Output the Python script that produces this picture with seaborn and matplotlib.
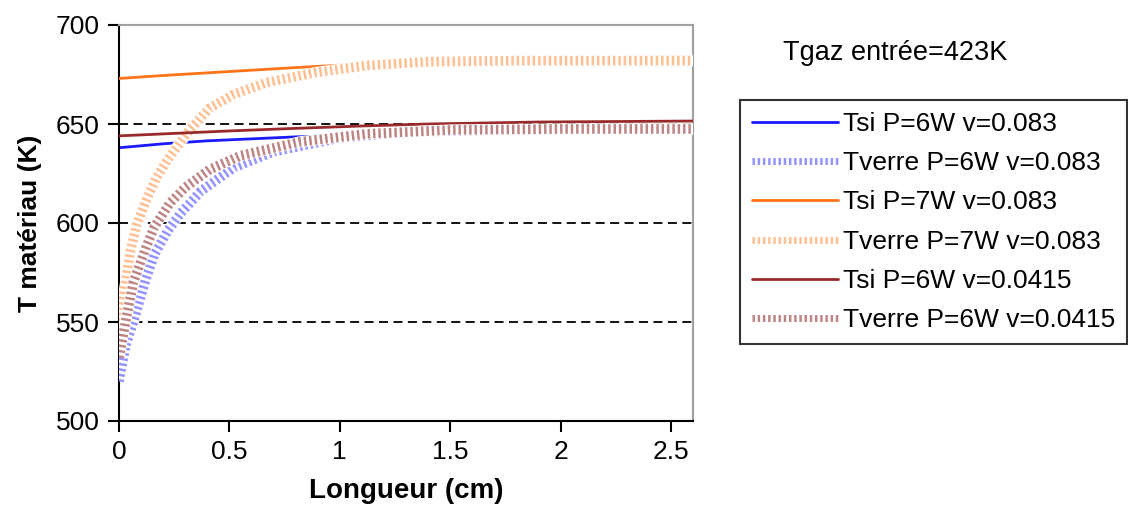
import matplotlib
matplotlib.use('Agg')
import matplotlib.pyplot as plt
import seaborn as sns
import pandas as pd
import numpy as np

# ===== Données =====
# Tsi (lignes pleines)
l_tsi_6w_083 = [0, 0.1, 0.2, 0.4, 0.6, 0.8, 0.97]
t_tsi_6w_083 = [638, 639, 640, 641.5, 642.5, 643.5, 644]

l_tsi_7w_083 = [0, 0.2, 0.5, 0.8, 1.1, 1.5, 2.0, 2.35, 2.6]
t_tsi_7w_083 = [673, 674.5, 676.5, 678.5, 680.3, 682, 683.3, 683.7, 684]

l_tsi_6w_0415 = [0, 0.2, 0.5, 0.8, 1.1, 1.4, 1.9, 2.6]
t_tsi_6w_0415 = [644, 645, 646.5, 647.8, 649, 650, 651, 651.5]

# Tverre (bandes pointillées)
l_tv_6w_083 = [0, 0.03, 0.065, 0.12, 0.16, 0.22, 0.28, 0.37, 0.52, 0.7, 1.0, 1.3, 1.7, 2.2, 2.6]
t_tv_6w_083 = [520, 538, 550, 571, 584, 596, 605, 616, 628, 636, 643, 646, 647, 647.5, 647.5]

l_tv_7w_083 = [0, 0.027, 0.05, 0.08, 0.125, 0.17, 0.22, 0.32, 0.41, 0.52, 0.67, 0.89, 1.12, 1.4, 1.8, 2.6]
t_tv_7w_083 = [548, 568, 585, 599, 612, 623, 632, 647, 658, 665, 671, 676, 679.5, 681.5, 682, 682]

l_tv_6w_0415 = [0, 0.03, 0.065, 0.12, 0.16, 0.23, 0.3, 0.41, 0.55, 0.82, 1.12, 1.5, 2.0, 2.6]
t_tv_6w_0415 = [532, 550, 570, 587, 598, 610, 618, 627, 634, 641, 645, 647, 647.5, 647.5]

x_ticks = [0, 0.5, 1, 1.5, 2, 2.5]
x_labels = ['0', '0.5', '1', '1.5', '2', '2.5']
y_ticks = [500, 550, 600, 650, 700]

series = [
    ('Tsi P=6W v=0.083', l_tsi_6w_083, t_tsi_6w_083, '#1a1aff', 'solid'),
    ('Tverre P=6W v=0.083', l_tv_6w_083, t_tv_6w_083, '#3a3aff', 'band'),
    ('Tsi P=7W v=0.083', l_tsi_7w_083, t_tsi_7w_083, '#ff7418', 'solid'),
    ('Tverre P=7W v=0.083', l_tv_7w_083, t_tv_7w_083, '#ff8c3a', 'band'),
    ('Tsi P=6W v=0.0415', l_tsi_6w_0415, t_tsi_6w_0415, '#9a2a2a', 'solid'),
    ('Tverre P=6W v=0.0415', l_tv_6w_0415, t_tv_6w_0415, '#8a2020', 'band'),
]

sns.set_style('white')
plt.rcParams['font.family'] = ['Liberation Sans', 'DejaVu Sans']
plt.rcParams['text.color'] = 'black'
plt.rcParams['axes.labelcolor'] = 'black'
plt.rcParams['xtick.color'] = 'black'
plt.rcParams['ytick.color'] = 'black'

fig = plt.figure(figsize=(11.28, 5.26), dpi=100)
ax = fig.add_axes([119 / 1128, 1 - 421 / 526, (693 - 119) / 1128, (421 - 25) / 526])

# Quadrillage horizontal en tirets
for y in [550, 600, 650]:
    ax.axhline(y, color='black', linestyle=(0, (5, 3)), linewidth=1.3, zorder=1)

handles = []
for i, (label, lx, ty, color, kind) in enumerate(series):
    df = pd.DataFrame({'L': lx, 'T': ty})
    z = 2 + i
    if kind == 'solid':
        sns.lineplot(data=df, x='L', y='T', ax=ax, color=color, linewidth=2,
                     zorder=z, estimator=None, sort=False)
        h = matplotlib.lines.Line2D([], [], color=color, linewidth=2)
    else:
        ax.plot(df['L'], df['T'], color='white', linewidth=8, zorder=z,
                solid_capstyle='butt')
        ax.plot(df['L'], df['T'], color=color, linewidth=7, alpha=0.55, zorder=z,
                linestyle=(0, (0.25, 0.3)), dash_capstyle='butt')
        h = matplotlib.lines.Line2D([], [], color=color, linewidth=5, alpha=0.55,
                                    linestyle=(0, (0.35, 0.4)), dash_capstyle='butt')
    handles.append((h, label))

ax.set_xlim(0, 2.6)
ax.set_ylim(500, 700)
ax.set_xticks(x_ticks)
ax.set_xticklabels(x_labels)
ax.set_yticks(y_ticks)
ax.tick_params(axis='both', labelsize=19, length=8, width=1.5, color='black',
               labelcolor='black', direction='out', pad=6)
ax.tick_params(left=True, bottom=True)
ax.set_xlabel('Longueur (cm)', fontsize=20, fontweight='bold', labelpad=10)
ax.set_ylabel('T matériau (K)', fontsize=19, fontweight='bold', labelpad=10)

for side in ['left', 'bottom']:
    ax.spines[side].set_color('black')
    ax.spines[side].set_linewidth(1.5)
for side in ['top', 'right']:
    ax.spines[side].set_color('#a0a0a0')
    ax.spines[side].set_linewidth(1.5)

fig.text(783 / 1128, 1 - 53 / 526, 'Tgaz entrée=423K', fontsize=19.5,
         ha='left', va='center', color='black')

leg = fig.legend([h for h, _ in handles], [l for _, l in handles],
                 loc='upper left', bbox_to_anchor=(740 / 1128, 1 - 100 / 526),
                 fontsize=19, frameon=True, fancybox=False, handlelength=3.25,
                 handletextpad=0.2, labelspacing=0.58, borderpad=0.45,
                 borderaxespad=0)
leg.get_frame().set_edgecolor('black')
leg.get_frame().set_linewidth(1.5)
for t in leg.get_texts():
    t.set_color('black')

plt.savefig('out.png', dpi=100)
plt.close(fig)
